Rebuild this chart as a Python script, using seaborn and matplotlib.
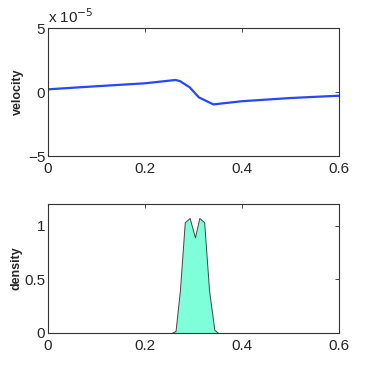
import numpy as np
import matplotlib
matplotlib.use("Agg")
import matplotlib.pyplot as plt
import seaborn as sns

# velocity profile (units of 1e-5)
vel_x = [0.0, 0.1, 0.2, 0.263, 0.272, 0.292, 0.311, 0.341, 0.4, 0.5, 0.6]
vel_y = [0.21, 0.45, 0.68, 0.94, 0.85, 0.37, -0.42, -0.97, -0.72, -0.47, -0.29]

# density profile
den_x = [0.0, 0.255, 0.263, 0.272, 0.282, 0.292, 0.303, 0.312, 0.322, 0.332, 0.343, 0.351, 0.6]
den_y = [0.0, 0.0, 0.02, 0.4, 1.03, 1.07, 0.89, 1.07, 1.03, 0.4, 0.03, 0.0, 0.0]

xticks = [0, 0.2, 0.4, 0.6]
xticklabels = ["0", "0.2", "0.4", "0.6"]

sns.set_style("white")
plt.rcParams['font.family'] = ['Liberation Sans', 'DejaVu Sans']
plt.rcParams['axes.edgecolor'] = '#333333'
plt.rcParams['xtick.direction'] = 'in'
plt.rcParams['ytick.direction'] = 'in'

fig = plt.figure(figsize=(3.74, 3.75), dpi=100)
ax1 = fig.add_axes([48/374, 1 - 156/375, 291/374, 128/375])
ax2 = fig.add_axes([48/374, 1 - 333/375, 291/374, 129/375])

# top: velocity
sns.lineplot(x=vel_x, y=np.array(vel_y) * 1e-5, ax=ax1, color="#2646ff", linewidth=1.6)
ax1.set_xlim(0, 0.6)
ax1.set_ylim(-5e-5, 5e-5)
ax1.set_yticks([-5e-5, 0, 5e-5])
ax1.set_yticklabels(["\u22125", "0", "5"])
ax1.text(0.0, 1.015, r"x 10$^{-5}$", transform=ax1.transAxes, fontsize=11, va="bottom", ha="left")
ax1.set_ylabel("velocity", fontsize=9, fontweight="bold", labelpad=3)

# bottom: density
ax2.fill_between(den_x, 0, den_y, facecolor="#7fffd9", edgecolor="#444444", linewidth=0.7)
ax2.set_xlim(0, 0.6)
ax2.set_ylim(0, 1.2)
ax2.set_yticks([0, 0.5, 1])
ax2.set_yticklabels(["0", "0.5", "1"])
ax2.set_ylabel("density", fontsize=9, fontweight="bold", labelpad=1)

for ax in (ax1, ax2):
    ax.set_xticks(xticks)
    ax.set_xticklabels(xticklabels)
    ax.tick_params(axis="both", labelsize=11, length=3, width=0.6, top=True, right=True)
    ax.tick_params(axis="x", pad=4)
    ax.tick_params(axis="y", pad=2)
    for s in ax.spines.values():
        s.set_linewidth(0.8)
        s.set_visible(True)

fig.savefig("out.png", dpi=100)
